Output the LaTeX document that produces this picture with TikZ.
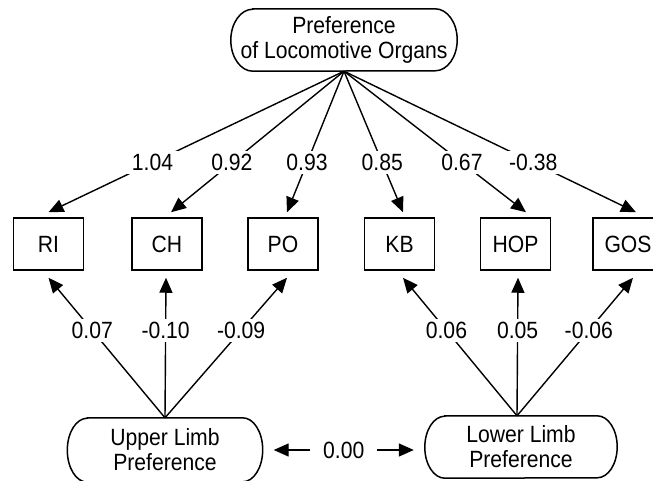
\documentclass[tikz,border=0pt]{standalone}
\usepackage{fontspec}
\setmainfont{Liberation Sans}[FakeStretch=0.9]
\usetikzlibrary{arrows.meta,calc}
\newcommand\drawstadium[3]{%
  \draw[line width=1.5pt] ($(#1.north west)+(#2,0)$) -- ($(#1.north east)+(-#2,0)$)
    arc[start angle=90,end angle=-90,x radius=#2pt,y radius=#3pt]
    -- ($(#1.south west)+(#2,0)$)
    arc[start angle=270,end angle=90,x radius=#2pt,y radius=#3pt] -- cycle;}
\begin{document}
\begin{tikzpicture}[x=1pt,y=-1pt,
  every node/.style={font=\fontsize{23.5}{25}\selectfont},
  obs/.style={draw,line width=1.5pt,minimum width=70pt,minimum height=52pt,inner sep=0pt},
  lat/.style={inner sep=0pt,align=center},
  arr/.style={line width=1.4pt,-{Triangle[length=15pt,width=13pt]}},
  dbl/.style={line width=1.4pt,{Triangle[length=15pt,width=13pt]}-{Triangle[length=15pt,width=13pt]}},
  lab/.style={fill=white,inner xsep=5pt,inner ysep=3pt}]
\useasboundingbox (0,0) rectangle (653,480);

% latent variables
\node[lat,minimum width=226pt,minimum height=62pt] (T) at (344,40) {Preference\\of Locomotive Organs};
\drawstadium{T}{22}{31}
\node[lat,minimum width=195pt,minimum height=64pt] (U) at (165,450) {Upper Limb\\Preference};
\drawstadium{U}{20}{32}
\node[lat,minimum width=192pt,minimum height=62pt] (L) at (521,447) {Lower Limb\\Preference};
\drawstadium{L}{20}{31}

% observed variables
\node[obs] (RI)  at (48.5,244) {RI};
\node[obs] (CH)  at (167,244)  {CH};
\node[obs] (PO)  at (283,244)  {PO};
\node[obs] (KB)  at (399.5,244) {KB};
\node[obs] (HOP) at (515.5,244) {HOP};
\node[obs] (GOS) at (628,244)  {GOS};

% loadings from the general factor
\draw[arr] (T.south) -- node[lab,pos=0.648]{1.04}  ($(RI.north)+(0,-5)$);
\draw[arr] (T.south) -- node[lab,pos=0.648]{0.92}  ($(CH.north)+(4,-5)$);
\draw[arr] (T.south) -- node[lab,pos=0.648]{0.93}  ($(PO.north)+(4,-5)$);
\draw[arr] (T.south) -- node[lab,pos=0.648]{0.85}  ($(KB.north)+(3.5,-5)$);
\draw[arr] (T.south) -- node[lab,pos=0.648]{0.67}  ($(HOP.north)+(10.5,-5)$);
\draw[arr] (T.south) -- node[lab,pos=0.648]{-0.38} ($(GOS.north)+(8,-5)$);

% upper limb loadings
\draw[arr] (U.north) -- node[lab,pos=0.624]{0.07}  ($(RI.south)+(0,7)$);
\draw[arr] (U.north) -- node[lab,pos=0.624]{-0.10} ($(CH.south)+(-1,7)$);
\draw[arr] (U.north) -- node[lab,pos=0.624]{-0.09} ($(PO.south)+(4,7)$);

% lower limb loadings
\draw[arr] ($(L.north)+(-4,0)$) -- node[lab,pos=0.619]{0.06}  ($(KB.south)+(3.5,7)$);
\draw[arr] ($(L.north)+(-4,0)$) -- node[lab,pos=0.619]{0.05}  ($(HOP.south)+(2.5,7)$);
\draw[arr] ($(L.north)+(-4,0)$) -- node[lab,pos=0.619]{-0.06} ($(GOS.south)+(5,7)$);

% correlation
\draw[dbl] ($(U.east)+(11,0)$) -- node[lab,inner xsep=13pt]{0.00} ($(U.east -| L.west)+(-11,0)$);
\end{tikzpicture}
\end{document}
